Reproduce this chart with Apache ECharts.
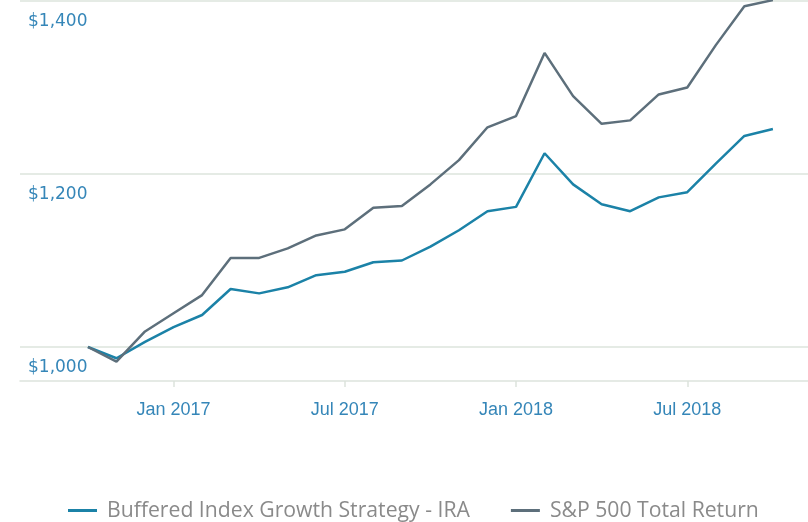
<!DOCTYPE html>
<html>
<head>
<meta charset="utf-8">
<script src="https://cdn.jsdelivr.net/npm/echarts@6/dist/echarts.min.js"></script>
<style>html,body{margin:0;padding:0;background:#fff}#c{width:808px;height:522px}</style>
</head>
<body>
<div id="c"></div>
<script>
const categories = ['Oct 2016','Nov 2016','Dec 2016','Jan 2017','Feb 2017','Mar 2017','Apr 2017','May 2017','Jun 2017','Jul 2017','Aug 2017','Sep 2017','Oct 2017','Nov 2017','Dec 2017','Jan 2018','Feb 2018','Mar 2018','Apr 2018','May 2018','Jun 2018','Jul 2018','Aug 2018','Sep 2018','Oct 2018'];
const buffered = [1000,987,1006,1023,1037,1067,1062,1069,1083,1087,1098,1100,1116,1135,1157,1162,1224,1188,1165,1157,1173,1179,1212,1244,1252];
const sp500 = [1000,983,1018,1039,1060,1103,1103,1114,1129,1136,1161,1163,1188,1216,1254,1267,1340,1290,1258,1262,1292,1300,1349,1394,1401];
const tickLabels = ['Jan 2017','Jul 2017','Jan 2018','Jul 2018'];
const seriesNames = ['Buffered Index Growth Strategy - IRA','S&P 500 Total Return'];

const chart = echarts.init(document.getElementById('c'), null, {renderer:'canvas'});
const tickIdx = tickLabels.map(l => categories.indexOf(l));
const gridColor = '#dde4dd';
const labelColor = '#3586b8';
chart.setOption({
  animation: false,
  grid: {left: 20, right: 0, top: 1, bottom: 175},
  xAxis: {
    type: 'value', min: -2.38, max: 25.23, offset: 34,
    splitLine: {show: false},
    axisLine: {show: true, lineStyle: {color: gridColor, width: 1.5}},
    axisTick: {show: true, customValues: tickIdx, length: 6, lineStyle: {color: gridColor, width: 1.5}},
    axisLabel: {customValues: tickIdx, formatter: v => categories[Math.round(v)], color: labelColor,
      fontFamily: 'Liberation Sans', fontSize: 18, margin: 20}
  },
  yAxis: {
    type: 'value', min: 1000, max: 1400, interval: 200,
    axisLine: {show: false}, axisTick: {show: false},
    splitLine: {lineStyle: {color: gridColor, width: 1.5}},
    axisLabel: {inside: true, align: 'left', verticalAlign: 'top', margin: 8, padding: [12,0,0,0],
      color: labelColor, fontFamily: 'DejaVu Sans', fontSize: 17,
      formatter: v => '$' + v.toLocaleString('en-US')}
  },
  legend: {
    top: 495, left: 63, itemWidth: 29, itemHeight: 3, itemGap: 41, icon: 'rect',
    textStyle: {color: '#8a8a8a', fontFamily: 'Open Sans', fontSize: 21.2, padding: [0,0,0,5]},
    data: seriesNames
  },
  series: [
    {name: seriesNames[0], type: 'line', data: buffered.map((v,i)=>[i,v]), showSymbol: false, clip: false, z: 3,
     color: '#1b82a7', lineStyle: {width: 2.5, color: '#1b82a7'}},
    {name: seriesNames[1], type: 'line', data: sp500.map((v,i)=>[i,v]), showSymbol: false, clip: false, z: 4,
     color: '#5d6f7b', lineStyle: {width: 2.5, color: '#5d6f7b'}}
  ]
});
</script>
</body>
</html>
